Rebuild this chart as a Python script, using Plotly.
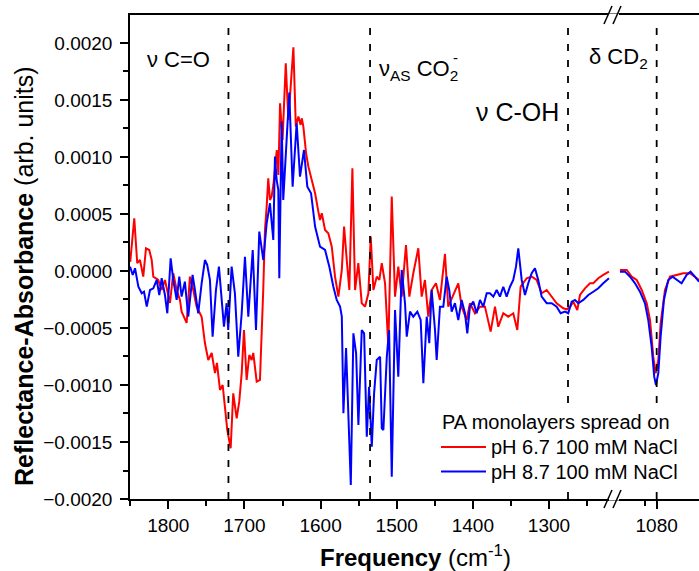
import plotly.graph_objects as go

# ---------------- data ----------------
# main window (1850-1216 cm-1)
freq_red_main = [1850, 1844.7, 1840.8, 1837.2, 1832.9, 1829.3, 1825.0, 1821.8, 1819.7, 1813.2, 1808.7, 1804.4,
                 1797.8, 1793.5, 1789.0, 1784.7, 1782.5, 1775.9, 1771.6, 1767.2, 1762.8, 1756.2, 1751.9, 1747.5,
                 1743.0, 1738.7, 1736.1, 1732.1, 1728.6, 1725.6, 1722.5, 1718.1, 1714.7, 1710.2, 1706.8, 1703.6,
                 1700.6, 1697.1, 1693.6, 1690.5, 1688.4, 1683.9, 1679.6, 1675.3, 1673.0, 1670.8, 1668.7, 1666.5,
                 1664.3, 1662.0, 1657.5, 1655.4, 1653.2, 1649.9, 1645.7, 1642.3, 1639.4, 1635.7, 1632.5, 1629.1,
                 1626.2, 1624.7, 1622.6, 1619.0, 1616.0, 1612.5, 1607.2, 1602.9, 1600.7, 1598.4, 1594.1, 1589.8,
                 1585.3, 1581.0, 1576.6, 1572.1, 1569.1, 1565.6, 1562.2, 1558.2, 1554.7, 1550.4, 1545.9, 1541.6,
                 1537.2, 1534.1, 1530.6, 1526.2, 1522.8, 1519.6, 1515.3, 1511.0, 1506.5, 1502.2, 1497.9, 1493.4,
                 1487.8, 1483.4, 1478.2, 1471.6, 1467.2, 1462.9, 1458.5, 1454.1, 1448.4, 1443.2, 1436.6, 1432.3,
                 1426.5, 1419.1, 1414.7, 1408.1, 1403.8, 1397.2, 1390.6, 1384.1, 1376.6, 1370.9, 1366.6, 1360.0,
                 1353.5, 1346.9, 1341.6, 1337.2, 1329.3, 1322.7, 1316.2, 1309.6, 1303.0, 1296.5, 1289.9, 1281.2,
                 1276.5, 1272.0, 1268.1, 1262.8, 1259.3, 1252.7, 1246.1, 1241.8, 1235.2, 1228.7, 1221.2]
abs_red_main = [0.8e-4, 4.62e-4, 0.68e-4, 0.96e-4, -0.50e-4, 1.99e-4, 1.84e-4, 0.96e-4, -0.50e-4, -0.79e-4, -1.67e-4, -0.79e-4,
                -2.81e-4, -0.20e-4, -1.67e-4, -2.54e-4, -3.57e-4, -4.56e-4, -0.50e-4, -1.67e-4, -3.13e-4, -4.01e-4, -6.32e-4, -7.81e-4,
                -7.19e-4, -8.95e-4, -8.07e-4, -10.44e-4, -10.0e-4, -12.19e-4, -13.95e-4, -15.55e-4, -10.73e-4, -12.92e-4, -11.46e-4, -8.97e-4,
                -5.18e-4, -9.56e-4, -7.37e-4, -7.81e-4, -7.19e-4, -9.71e-4, -9.56e-4, -1.67e-4, 3.6e-4, 5.64e-4, 8.13e-4, 6.23e-4,
                6.52e-4, 7.54e-4, 10.61e-4, 8.42e-4, 14.71e-4, 11.49e-4, 18.22e-4, 13.25e-4, 15.88e-4, 19.62e-4, 12.66e-4, 13.54e-4,
                12.81e-4, 13.39e-4, 12.66e-4, 10.32e-4, 9.15e-4, 8.27e-4, 6.82e-4, 5.20e-4, 4.47e-4, 5.06e-4, 3.60e-4, 3.31e-4,
                2.13e-4, -0.50e-4, -2.25e-4, 0.09e-4, 3.89e-4, 0.96e-4, -1.67e-4, 9.01e-4, -1.67e-4, 0.68e-4, -2.83e-4, -3.13e-4,
                -1.96e-4, 3.01e-4, -1.67e-4, -0.50e-4, -0.79e-4, 0.68e-4, -1.08e-4, -6.64e-4, 6.52e-4, -2.25e-4, 0.38e-4, -2.25e-4,
                2.28e-4, -2.25e-4, -0.20e-4, 1.99e-4, -2.25e-4, -0.79e-4, -4.01e-4, -1.67e-4, -1.08e-4, -2.54e-4, 1.49e-4, -3.13e-4,
                -2.25e-4, -1.08e-4, -3.13e-4, -4.30e-4, -2.83e-4, -3.71e-4, -3.13e-4, -3.13e-4, -5.32e-4, -3.13e-4, -4.89e-4, -3.71e-4,
                -4.01e-4, -3.71e-4, -5.18e-4, -1.38e-4, -0.64e-4, -0.50e-4, -0.79e-4, -1.96e-4, -1.67e-4, -2.25e-4, -2.83e-4, -3.27e-4,
                -3.37e-4, -3.13e-4, -2.69e-4, -3.42e-4, -2.11e-4, -1.52e-4, -1.08e-4, -1.08e-4, -0.64e-4, -0.35e-4, -0.06e-4]

freq_blue_main = [1850.3, 1846.7, 1843.7, 1839.3, 1834.9, 1831.9, 1828.3, 1824.0, 1819.7, 1815.2, 1811.8, 1808.7,
                  1804.4, 1801.3, 1796.9, 1793.5, 1789.0, 1785.6, 1782.5, 1778.2, 1773.8, 1768.1, 1765.0, 1760.7,
                  1756.2, 1751.9, 1748.9, 1745.3, 1741.8, 1737.4, 1733.5, 1730.0, 1726.9, 1723.4, 1721.3, 1716.8,
                  1712.5, 1708.1, 1703.6, 1699.3, 1694.9, 1689.1, 1684.8, 1680.5, 1675.2, 1670.8, 1666.5, 1662.1,
                  1659.9, 1657.7, 1655.5, 1654.2, 1651.1, 1649.0, 1646.8, 1641.1, 1636.7, 1634.3, 1631.4, 1627.0,
                  1621.8, 1617.4, 1612.5, 1607.2, 1600.7, 1594.1, 1588.5, 1583.2, 1578.8, 1574.4, 1572.1, 1570.0,
                  1566.5, 1560.3, 1556.9, 1553.3, 1550.3, 1545.9, 1542.8, 1539.3, 1536.3, 1532.7, 1529.7, 1526.2,
                  1521.8, 1519.6, 1517.5, 1513.0, 1510.0, 1506.5, 1502.2, 1497.9, 1493.4, 1489.1, 1486.8, 1482.5,
                  1478.2, 1472.9, 1468.5, 1465.0, 1460.6, 1457.2, 1454.1, 1449.7, 1447.5, 1443.2, 1438.8, 1434.4,
                  1431.0, 1427.8, 1423.5, 1419.1, 1414.7, 1410.3, 1407.3, 1403.8, 1399.4, 1395.0, 1390.6, 1386.3,
                  1381.8, 1377.5, 1373.1, 1368.7, 1364.4, 1360.0, 1355.6, 1351.2, 1346.9, 1343.3, 1340.3, 1335.8,
                  1331.5, 1327.2, 1322.7, 1318.4, 1314.1, 1309.6, 1303.0, 1296.5, 1289.9, 1284.7, 1279.0, 1274.7,
                  1270.2, 1265.8, 1261.5, 1254.9, 1248.3, 1241.8, 1235.2, 1228.7, 1221.2]
abs_blue_main = [0.38e-4, -0.35e-4, 0.24e-4, -1.38e-4, -1.96e-4, -1.82e-4, -3.13e-4, -1.67e-4, -1.52e-4, -0.79e-4, -2.11e-4, -0.64e-4,
                 -2.11e-4, -3.71e-4, 1.11e-4, -0.79e-4, -2.54e-4, -0.50e-4, -2.25e-4, -0.94e-4, -4.01e-4, -0.35e-4, -1.67e-4, -3.71e-4,
                 -1.08e-4, 0.96e-4, 0.53e-4, -0.79e-4, -5.76e-4, -1.67e-4, 0.38e-4, -2.25e-4, -4.89e-4, -2.83e-4, -5.18e-4, 0.38e-4,
                 -1.96e-4, -7.52e-4, -3.71e-4, 1.25e-4, -4.01e-4, 1.84e-4, -5.18e-4, 3.45e-4, 0.96e-4, 4.18e-4, 5.94e-4, 2.72e-4,
                 10.03e-4, 7.98e-4, 7.11e-4, -0.64e-4, 13.10e-4, 6.23e-4, 8.57e-4, 15.64e-4, 7.39e-4, 9.74e-4, 12.96e-4, 8.27e-4,
                 10.61e-4, 7.39e-4, 6.82e-4, 3.89e-4, 2.13e-4, 1.84e-4, 0.38e-4, -1.38e-4, -2.54e-4, -3.13e-4, -4.01e-4, -12.48e-4,
                 -6.75e-4, -18.77e-4, -5.47e-4, -7.22e-4, -13.51e-4, -5.18e-4, -5.47e-4, -14.54e-4, -10.15e-4, -15.41e-4, -10.73e-4, -7.81e-4,
                 -7.52e-4, -13.80e-4, -13.95e-4, -7.52e-4, -5.18e-4, -18.04e-4, -3.42e-4, -9.27e-4, 0.09e-4, -2.83e-4, -5.76e-4, -3.57e-4,
                 -4.01e-4, -3.57e-4, -4.30e-4, -9.85e-4, -4.01e-4, -6.34e-4, -1.67e-4, -5.18e-4, -7.81e-4, -3.13e-4, -3.13e-4, -0.50e-4,
                 -1.67e-4, -3.57e-4, -2.83e-4, -4.30e-4, -2.54e-4, -3.71e-4, -5.47e-4, -3.13e-4, -2.69e-4, -3.71e-4, -2.54e-4, -3.13e-4,
                 -1.96e-4, -1.96e-4, -2.25e-4, -1.67e-4, -2.25e-4, -1.38e-4, -2.25e-4, -1.38e-4, -0.79e-4, 0.38e-4, 1.99e-4, -0.79e-4,
                 -2.11e-4, -1.08e-4, -0.20e-4, 0.24e-4, -0.79e-4, -2.25e-4, -2.83e-4, -2.83e-4, -3.13e-4, -3.71e-4, -3.57e-4, -3.71e-4,
                 -2.69e-4, -2.54e-4, -2.83e-4, -2.54e-4, -2.11e-4, -1.82e-4, -1.52e-4, -1.08e-4, -0.64e-4]

# CD2 window (after the axis break)
freq_red_cd = [1111.4, 1105.6, 1101.4, 1097.1, 1092.8, 1088.5, 1085.7, 1082.9, 1080.9, 1078.6, 1076.6, 1072.9,
               1068.6, 1062.9, 1057.3, 1051.5, 1045.8, 1043.8]
abs_red_cd = [0.09e-4, 0.09e-4, -0.50e-4, -0.79e-4, -1.67e-4, -2.83e-4, -4.30e-4, -7.52e-4, -8.97e-4, -7.81e-4, -4.59e-4, -1.67e-4,
              -0.50e-4, -0.35e-4, -0.20e-4, -0.20e-4, -0.64e-4, -0.79e-4]
freq_blue_cd = [1111.4, 1107.1, 1102.8, 1098.5, 1094.3, 1090.0, 1087.2, 1084.3, 1082.1, 1080.6, 1078.6, 1076.6,
                1073.8, 1070.1, 1066.4, 1062.9, 1058.7, 1054.4, 1051.0, 1047.3, 1043.8]
abs_blue_cd = [-0.06e-4, -0.06e-4, -0.50e-4, -1.08e-4, -1.82e-4, -2.83e-4, -4.30e-4, -6.64e-4, -9.27e-4, -10.0e-4, -8.97e-4, -5.76e-4,
               -2.54e-4, -0.79e-4, -0.50e-4, -0.79e-4, -1.08e-4, -0.35e-4, -0.06e-4, -0.50e-4, -0.94e-4]

band_positions_main = [1721, 1535, 1275]
band_positions_cd = [1080]

series_names = ["pH 6.7 100 mM NaCl", "pH 8.7 100 mM NaCl"]
legend_title = "PA monolayers spread on"

RED = "#FF0000"
BLUE = "#0000FF"
FONT = "Liberation Sans, Arial, sans-serif"

# ---------------- figure ----------------
fig = go.Figure()
fig.add_trace(go.Scatter(x=freq_red_main, y=abs_red_main, mode="lines", name=series_names[0], showlegend=False,
                         line=dict(color=RED, width=2), xaxis="x", yaxis="y"))
fig.add_trace(go.Scatter(x=freq_blue_main, y=abs_blue_main, mode="lines", name=series_names[1], showlegend=False,
                         line=dict(color=BLUE, width=2), xaxis="x", yaxis="y"))
fig.add_trace(go.Scatter(x=freq_red_cd, y=abs_red_cd, mode="lines", name=series_names[0], showlegend=False,
                         line=dict(color=RED, width=2), xaxis="x2", yaxis="y"))
fig.add_trace(go.Scatter(x=freq_blue_cd, y=abs_blue_cd, mode="lines", name=series_names[1], showlegend=False,
                         line=dict(color=BLUE, width=2), xaxis="x2", yaxis="y"))

W, H = 699, 571
ML, MR, MT, MB = 130, 0, 15, 72
PW, PH = W - ML - MR, H - MT - MB
BREAK_PX = 613
split = (BREAK_PX - ML) / PW


def px_x(px):
    return (px - ML) / PW


def px_y(py):
    return (H - MB - py) / PH


tickfont = dict(family=FONT, size=19, color="black")
axis_common = dict(showline=True, linecolor="black", linewidth=1.5, ticks="outside", ticklen=8,
                   tickwidth=1.5, tickcolor="black", showgrid=False, zeroline=False, tickfont=tickfont,
                   mirror=True)

fig.update_layout(
    width=W, height=H,
    margin=dict(l=ML, r=MR, t=MT, b=MB, pad=0),
    paper_bgcolor="white", plot_bgcolor="white",
    font=dict(family=FONT, color="black"),
    xaxis=dict(domain=[0, split], range=[1850.3, 1215.9], tickmode="linear", tick0=1800, dtick=100,
               minor=dict(dtick=50, tick0=1800, ticks="outside", ticklen=5, tickwidth=1.5, tickcolor="black"),
               anchor="y", **axis_common),
    xaxis2=dict(domain=[split, 1], range=[1117.35, 1043.8], tickmode="array", tickvals=[1080],
                ticktext=["1080"],
                minor=dict(tickmode="array", tickvals=[1090], ticks="outside", ticklen=5, tickwidth=1.5,
                           tickcolor="black"),
                anchor="y", **axis_common),
    yaxis=dict(domain=[0, 1], range=[-0.0020, 0.002245], tickmode="linear", tick0=0, dtick=0.0005,
               tickformat=".4f", anchor="x",
               minor=dict(dtick=0.00025, ticks="outside", ticklen=5, tickwidth=1.5, tickcolor="black"),
               showline=True, linecolor="black", linewidth=1.5, ticks="outside", ticklen=8, tickwidth=1.5,
               tickcolor="black", showgrid=False, zeroline=False, tickfont=tickfont, mirror=False,
               ticklabelstandoff=4),
    showlegend=False,
)

# dashed band markers
dash_style = dict(color="black", width=1.8, dash="7px,9px")
for f in band_positions_main:
    fig.add_shape(type="line", xref="x", yref="y", x0=f, x1=f, y0=-0.0020, y1=0.00218,
                  line=dash_style, layer="above")
for f in band_positions_cd:
    fig.add_shape(type="line", xref="x2", yref="y", x0=f, x1=f, y0=-0.0020, y1=0.00218,
                  line=dash_style, layer="above")

# axis-break marks (top and bottom)
for ycen in (MT, H - MB):
    fig.add_shape(type="rect", xref="paper", yref="paper",
                  x0=px_x(609), x1=px_x(619), y0=px_y(ycen + 1.5), y1=px_y(ycen - 1.5),
                  line=dict(width=0), fillcolor="white", layer="above")
    for dx in (0, 9):
        fig.add_shape(type="line", xref="paper", yref="paper",
                      x0=px_x(604 + dx), y0=px_y(ycen + 9), x1=px_x(612 + dx), y1=px_y(ycen - 9),
                      line=dict(color="black", width=1.5), layer="above")

# legend (white box covering the dashed lines, as in the original)
leg_font = dict(family=FONT, size=20, color="black")
fig.add_shape(type="rect", xref="paper", yref="paper",
              x0=px_x(436), x1=px_x(690), y0=px_y(486), y1=px_y(408),
              line=dict(width=0), fillcolor="white", layer="above")
fig.add_annotation(text=legend_title, xref="paper", yref="paper", x=px_x(440), y=px_y(422),
                   xanchor="left", yanchor="middle", showarrow=False, font=leg_font)
for name, col, yy in ((series_names[0], RED, 447), (series_names[1], BLUE, 471.5)):
    fig.add_shape(type="line", xref="paper", yref="paper", x0=px_x(441), x1=px_x(486),
                  y0=px_y(yy), y1=px_y(yy), line=dict(color=col, width=2), layer="above")
    fig.add_annotation(text=name, xref="paper", yref="paper", x=px_x(489), y=px_y(yy),
                       xanchor="left", yanchor="middle", showarrow=False, font=leg_font)

# band labels
lab_font = dict(family=FONT, size=22, color="black")
fig.add_annotation(text="ν C=O", xref="paper", yref="paper", x=px_x(145), y=px_y(59),
                   xanchor="left", yanchor="middle", showarrow=False, font=lab_font)
fig.add_annotation(text="ν<sub>AS</sub> CO<sub>2</sub>", xref="paper", yref="paper", x=px_x(377), y=px_y(70),
                   xanchor="left", yanchor="middle", showarrow=False, font=lab_font)
fig.add_annotation(text="-", xref="paper", yref="paper", x=px_x(451), y=px_y(58),
                   xanchor="left", yanchor="middle", showarrow=False, font=dict(family=FONT, size=15, color="black"))
fig.add_annotation(text="ν C-OH", xref="paper", yref="paper", x=px_x(474), y=px_y(112),
                   xanchor="left", yanchor="middle", showarrow=False, font=dict(family=FONT, size=25, color="black"))
fig.add_annotation(text="δ CD<sub>2</sub>", xref="paper", yref="paper", x=px_x(587), y=px_y(58),
                   xanchor="left", yanchor="middle", showarrow=False, font=lab_font)

# axis titles
title_font = dict(family=FONT, size=24, color="black")
fig.add_annotation(text="<b>Frequency</b> (cm<sup>-1</sup>)", xref="paper", yref="paper",
                   x=px_x(415), y=px_y(556), xanchor="center", yanchor="middle", showarrow=False,
                   font=title_font)
fig.add_annotation(text="<b>Reflectance-Absorbance</b> (arb. units)", xref="paper", yref="paper",
                   x=px_x(24), y=px_y(276), xanchor="center", yanchor="middle", showarrow=False,
                   textangle=-90, font=dict(family=FONT, size=25, color="black"))

fig.write_html("out.html")
